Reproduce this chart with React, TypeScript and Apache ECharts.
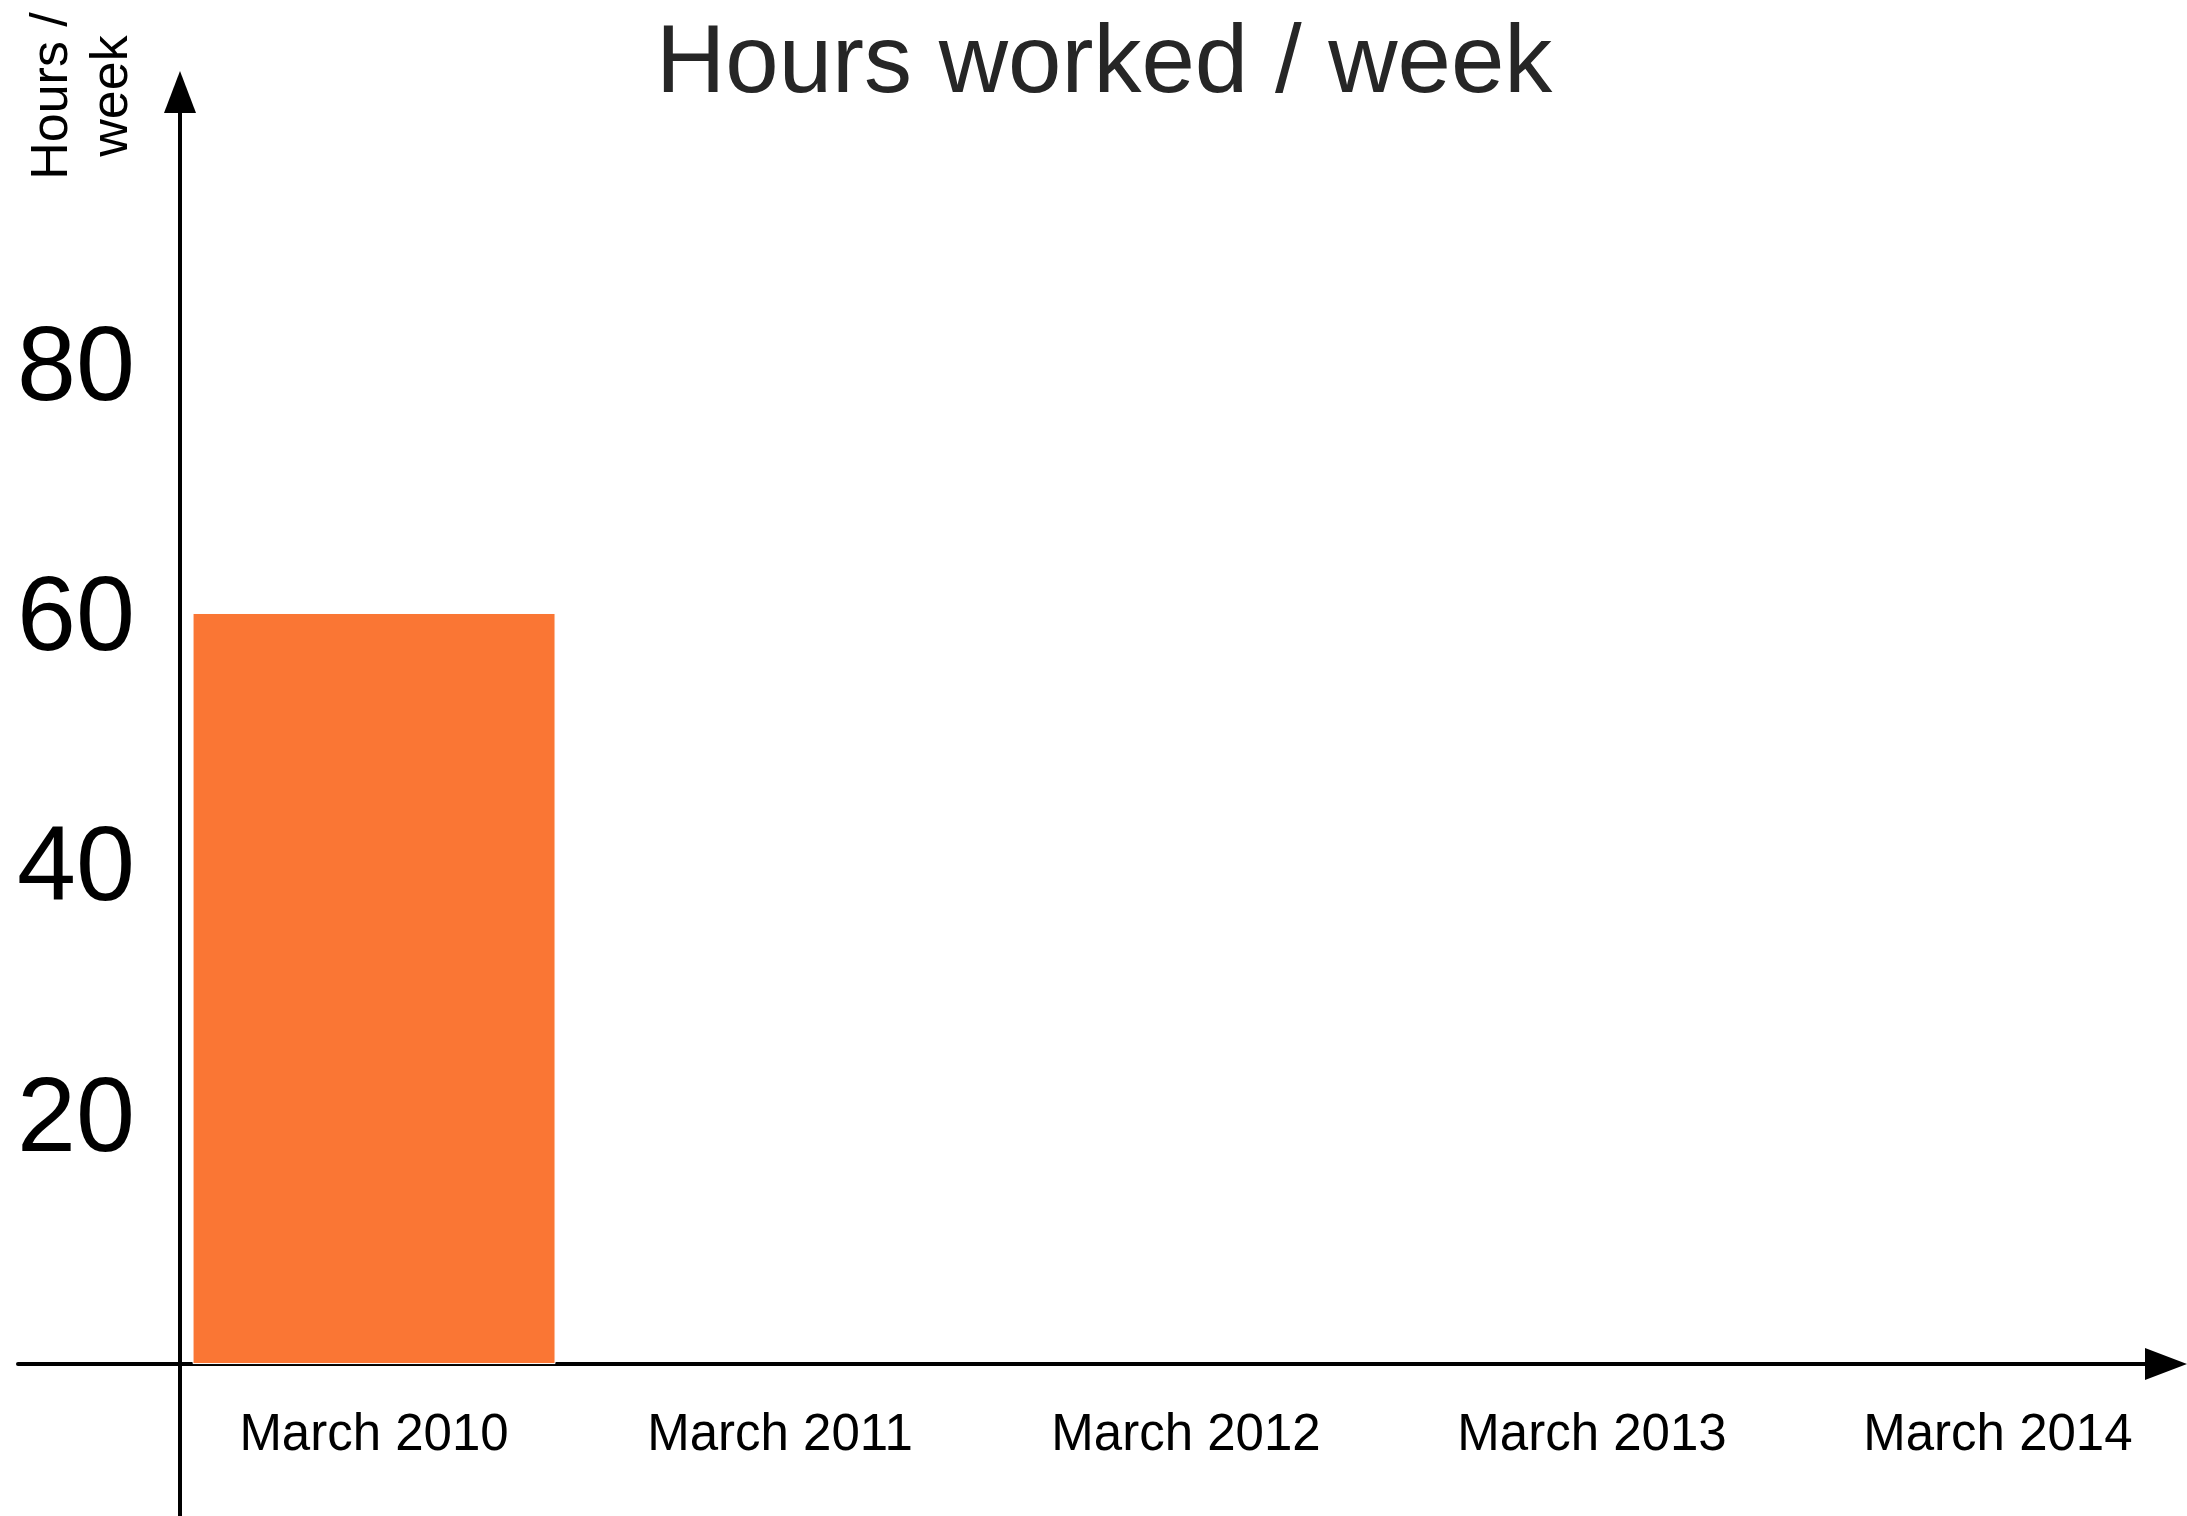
import React, { useEffect, useRef } from "react";
import * as echarts from "echarts";

const categories = ["March 2010", "March 2011", "March 2012", "March 2013", "March 2014"];
const hoursPerWeek: (number | null)[] = [60, null, null, null, null];
const yTickValues = [20, 40, 60, 80];
const titleText = "Hours worked / week";
const yAxisName = "Hours /\nweek";

const FONT = "'Liberation Sans', Arial, Helvetica, sans-serif";

export default function App() {
  const ref = useRef<HTMLDivElement>(null);

  useEffect(() => {
    if (!ref.current) return;
    const chart = echarts.init(ref.current, null, { renderer: "svg" });
    const option: any = {
      animation: false,
      backgroundColor: "#ffffff",
      title: {
        text: titleText,
        left: 651,
        top: 5,
        textStyle: {
          fontSize: 96,
          fontWeight: "normal",
          color: "#262626",
          fontFamily: FONT,
        },
      },
      grid: {
        left: 18,
        right: 21,
        top: 92,
        bottom: 0,
        containLabel: false,
        outerBoundsMode: "none",
      },
      xAxis: {
        type: "value",
        position: "bottom",
        offset: -152,
        min: -0.877,
        max: 4.414,
        axisLine: {
          show: true,
          onZero: false,
          symbol: ["none", "triangle"],
          symbolSize: [32, 42],
          lineStyle: { color: "#000", width: 4, cap: "round" },
        },
        axisTick: { show: false },
        splitLine: { show: false },
        axisLabel: {
          customValues: categories.map((_, i) => i),
          formatter: (v: number) => categories[Math.round(v)] ?? "",
          fontSize: 51,
          color: "#000",
          fontFamily: FONT,
          margin: 43,
        },
      },
      yAxis: {
        type: "value",
        position: "left",
        offset: -162,
        min: -12.14,
        max: 101.62,
        axisLine: {
          show: true,
          onZero: false,
          symbol: ["none", "triangle"],
          symbolSize: [32, 42],
          lineStyle: { color: "#000", width: 4, cap: "round" },
        },
        axisTick: { show: false },
        splitLine: { show: false },
        axisLabel: {
          customValues: yTickValues,
          fontSize: 106,
          color: "#000",
          fontFamily: FONT,
          margin: 45,
        },
      },
      graphic: [
        {
          type: "text",
          x: 79,
          y: 96,
          rotation: Math.PI / 2,
          style: {
            text: yAxisName,
            fontSize: 52,
            lineHeight: 60,
            fontFamily: FONT,
            fill: "#000",
            align: "center",
            verticalAlign: "middle",
          },
        },
      ],
      series: [
        {
          type: "bar",
          data: categories.map((_, i) => [i, hoursPerWeek[i]]),
          barWidth: 363,
          itemStyle: { color: "#FA7634", borderColor: "#ffffff", borderWidth: 1 },
          z: 1,
        },
      ],
    };
    chart.setOption(option);
    return () => chart.dispose();
  }, []);

  return (
    <div
      ref={ref}
      style={{ position: "absolute", left: 0, top: 0, width: 2187, height: 1516 }}
    />
  );
}
